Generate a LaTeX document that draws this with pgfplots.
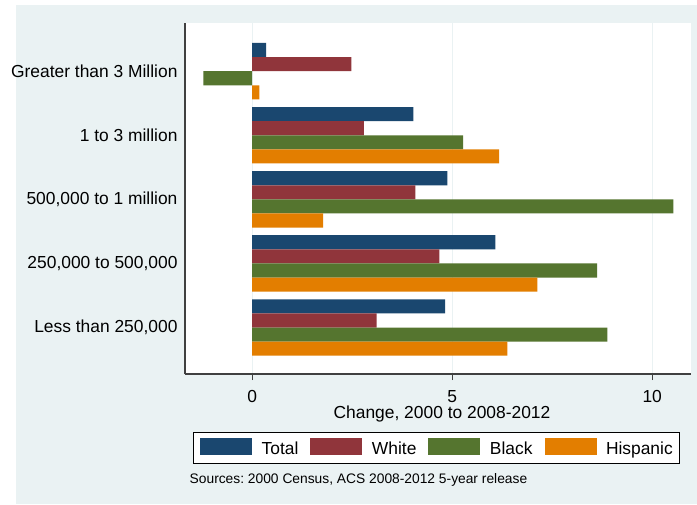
\documentclass[border=0pt]{standalone}
\usepackage{fontspec}
\setmainfont{Liberation Sans}
\usepackage{pgfplots}
\pgfplotsset{compat=1.18}
\usepackage{pgfplotstable}
\definecolor{bgc}{HTML}{EAF2F3}
\definecolor{cTotal}{HTML}{1A476F}
\definecolor{cWhite}{HTML}{90353B}
\definecolor{cBlack}{HTML}{55752F}
\definecolor{cHisp}{HTML}{E37E00}
\definecolor{axc}{HTML}{404040}
\frenchspacing

\pgfplotstableread{
y x
5 0.35
4 4.03
3 4.88
2 6.08
1 4.82
}\tTotal
\pgfplotstableread{
y x
5 2.48
4 2.79
3 4.08
2 4.68
1 3.11
}\tWhite
\pgfplotstableread{
y x
5 -1.22
4 5.27
3 10.53
2 8.62
1 8.88
}\tBlack
\pgfplotstableread{
y x
5 0.18
4 6.17
3 1.77
2 7.13
1 6.38
}\tHisp

\newcommand{\fs}{\fontsize{17.4}{20}\selectfont}

\begin{document}
\begin{tikzpicture}[x=1pt,y=1pt]
\fill[white] (0,0) rectangle (697,504);
\fill[bgc] (16,0) rectangle (697,499);
\begin{axis}[
  at={(185pt,130pt)}, anchor=south west,
  scale only axis, width=506pt, height=350.5pt,
  xmin=-1.68, xmax=10.97,
  ymin=0.275, ymax=5.744,
  axis background/.style={fill=white},
  xbar, bar width=0.22,
  axis x line*=bottom, axis y line*=left,
  axis line style={axc, line width=1.1pt},
  xtick={0,5,10},
  ytick={1,2,3,4,5},
  yticklabels={{Less than 250,000},{250,000 to 500,000},{500,000 to 1 million},{1 to 3 million},{Greater than 3 Million}},
  /pgf/number format/assume math mode=true,
  tick label style={font=\fs, text=black},
  tick style={axc, line width=1pt},
  ytick style={draw=none},
  major tick length=6pt,
  tick align=outside,
  xticklabel style={anchor=north, inner sep=0pt, text height=12.5pt, text depth=0pt, yshift=-9.5pt},
  yticklabel style={xshift=2pt},
  xmajorgrids, major grid style={bgc, line width=1.2pt},
  xlabel={Change, 2000 to 2008-2012},
  xlabel style={at={(axis description cs:0.5,0)}, anchor=north, inner sep=0pt,
    text height=12.5pt, text depth=3.5pt, font=\fs, yshift=-32pt, xshift=4pt},
  legend columns=4,
  legend style={at={(0.497,-0.1646)}, anchor=north, draw=black, line width=0.8pt,
    fill=white, inner xsep=7pt, inner ysep=5.5pt,
    font=\fs,
    nodes={inner sep=0pt, text height=12.5pt, text depth=3.5pt},
    /tikz/every odd column/.append style={column sep=9.5pt},
    /tikz/every even column/.append style={column sep=12pt}},
  legend image code/.code={\fill[#1,draw=none] (0pt,-4.5pt) rectangle (52pt,12.5pt);},
]
\addplot[fill=cTotal, draw=none, bar shift=0.33] table[x=x,y=y]{\tTotal};
\addplot[fill=cWhite, draw=none, bar shift=0.11] table[x=x,y=y]{\tWhite};
\addplot[fill=cBlack, draw=none, bar shift=-0.11] table[x=x,y=y]{\tBlack};
\addplot[fill=cHisp, draw=none, bar shift=-0.33] table[x=x,y=y]{\tHisp};
\legend{Total, White, Black, Hispanic}
\end{axis}
\node[anchor=west, font=\fontsize{13.8}{16}\selectfont, inner sep=0pt] at (189.5,24) {Sources: 2000 Census, ACS 2008-2012 5-year release};
\end{tikzpicture}
\end{document}
